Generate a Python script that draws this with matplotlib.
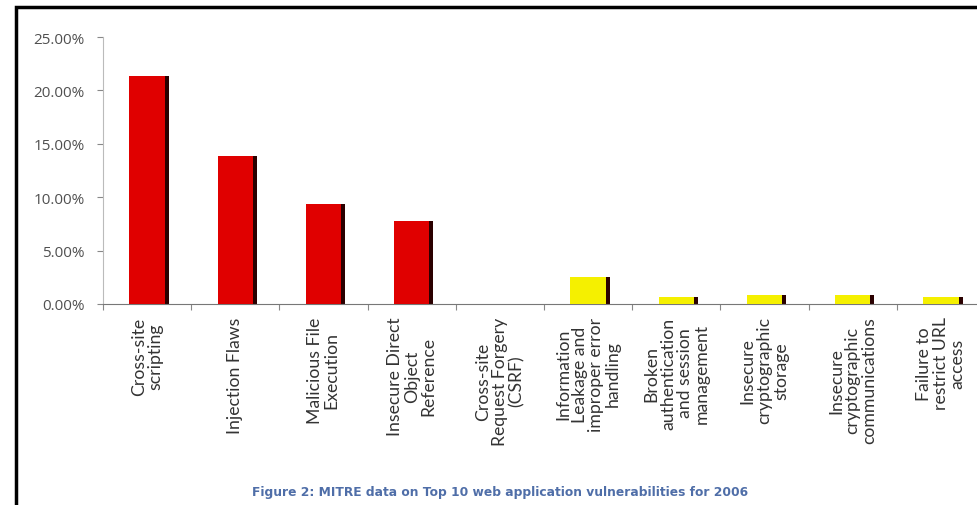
import matplotlib as mpl
mpl.use('Agg')
import matplotlib.pyplot as plt
import numpy as np
from matplotlib.patches import Rectangle

categories = ["Cross-site\nscripting", "Injection Flaws", "Malicious File\nExecution",
              "Insecure Direct\nObject\nReference", "Cross-site\nRequest Forgery\n(CSRF)",
              "Information\nLeakage and\nimproper error\nhandling", "Broken\nauthentication\nand session\nmanagement",
              "Insecure\ncryptographic\nstorage", "Insecure\ncryptographic\ncommunications",
              "Failure to\nrestrict URL\naccess"]
values = [21.35, 13.85, 9.35, 7.75, 0.0, 2.5, 0.65, 0.85, 0.85, 0.65]
bar_colors = ["#e00000"] * 5 + ["#f5f000"] * 5
yticks = [0, 5, 10, 15, 20, 25]
caption = "Figure 2: MITRE data on Top 10 web application vulnerabilities for 2006"

W, H = 978, 506
fig = plt.figure(figsize=(W / 100, H / 100), dpi=100)
fig.patch.set_facecolor("white")

# frame around the picture (cut at right and bottom)
fig.patches.append(Rectangle((16 / W, -0.05), 1.1, 1 - 8 / H + 0.05, transform=fig.transFigure,
                             fill=False, lw=2.5, edgecolor="black"))

x0, x1 = 103 / W, 985 / W
yb, yt = 1 - 305 / H, 1 - 38 / H
ax = fig.add_axes([x0, yb, x1 - x0, yt - yb])

x = np.arange(len(values))
# dark shadow behind bars
ax.bar(x + 0.04, values, width=0.41, color="#2a0000", zorder=2)
ax.bar(x, values, width=0.40, color=bar_colors, zorder=3)

ax.set_xlim(-0.5, len(values) - 0.5)
ax.set_ylim(0, 25)
ax.set_yticks(yticks)
ax.set_yticklabels(["%.2f%%" % v for v in yticks], color="#505050", fontsize=11,
                   family="Open Sans")
ax.set_xticks(np.arange(len(values) + 1) - 0.5)
ax.set_xticklabels([])
ax.tick_params(axis="y", length=4, color="#888888", pad=9)
ax.tick_params(axis="x", length=4, color="#888888")

for s in ["top", "right"]:
    ax.spines[s].set_visible(False)
ax.spines["left"].set_color("#bbbbbb")
ax.spines["bottom"].set_color("#777777")

for i, lab in enumerate(categories):
    ax.annotate(lab, xy=(i, 0), xycoords="data", xytext=(0, -9), textcoords="offset points",
                rotation=90, ha="center", va="top", fontsize=12.7, color="#333333",
                family="Lato", multialignment="center", linespacing=1.05)

fig.text(500 / W, 1 - 493 / H, caption, ha="center", va="center", fontsize=8.8,
         color="#4f6ea8", fontweight="bold")

fig.savefig("out.png", dpi=100)
